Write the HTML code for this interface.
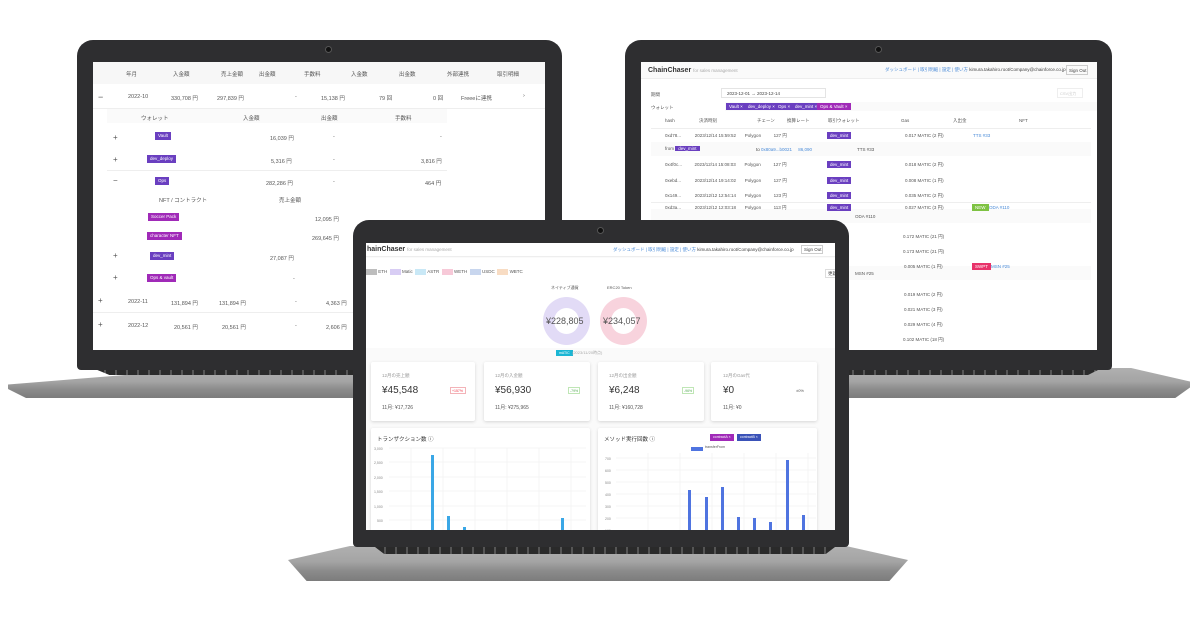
<!DOCTYPE html>
<html><head><meta charset="utf-8">
<style>
*{margin:0;padding:0;box-sizing:border-box}
body{width:1200px;height:631px;background:#fff;position:relative;overflow:hidden;font-family:"Liberation Sans","Noto Sans CJK JP",sans-serif;color:#444}
.a{position:absolute}
.bez{position:absolute;background:#2e2e30;border-radius:16px 16px 4px 4px}
.scr{position:absolute;background:#fff;overflow:hidden}
.t{position:absolute;font-size:5.5px;color:#555;white-space:nowrap}
.tag{position:absolute;height:8px;font-size:4.5px;color:#fff;padding:1px 3px;white-space:nowrap}
.pu{background:#6a3fc0}.mg{background:#a02ab8}
.ln{position:absolute;height:1px;background:#eee}
.card{position:absolute;background:#fff;box-shadow:0 1px 3px rgba(0,0,0,.15);border-radius:2px}
.base{position:absolute;background:linear-gradient(#b0b0b0 0,#a4a4a4 45%,#8c8c8c 70%,#7c7c7c 100%)}
.kb{position:absolute;background:repeating-linear-gradient(90deg,#2a2a2a 0,#2a2a2a 9px,#555 9px,#555 11px);}
</style></head><body>

<!-- LEFT LAPTOP -->
<div class="base" style="left:8px;top:368px;width:600px;height:30px;clip-path:polygon(0 55%,34% 0,100% 0,100% 100%,3% 100%,0 70%);border-radius:0 0 10px 10px"></div>
<div class="kb" style="left:95px;top:369px;width:480px;height:6px;clip-path:polygon(0 0,100% 0,100% 100%,3% 100%)"></div>
<div class="bez" style="left:77px;top:40px;width:485px;height:330px"></div>
<div class="a" style="left:325px;top:46px;width:7px;height:7px;border-radius:50%;background:#111;border:1px solid #555"></div>
<div class="scr" style="left:93px;top:62px;width:452px;height:288px">
 <div class="a" style="left:0;top:0;width:452px;height:22px;background:#f7f7f7"></div>
 <div class="t" style="left:33px;top:8px">年月</div><div class="t" style="left:80px;top:8px">入金額</div><div class="t" style="left:128px;top:8px">売上金額</div><div class="t" style="left:166px;top:8px">出金額</div><div class="t" style="left:211px;top:8px">手数料</div><div class="t" style="left:258px;top:8px">入金数</div><div class="t" style="left:306px;top:8px">出金数</div><div class="t" style="left:354px;top:8px">外部連携</div><div class="t" style="left:404px;top:8px">取引明細</div>
 <div class="t" style="left:5px;top:30px;font-size:9px">−</div><div class="t" style="left:35px;top:32px">2022-10</div><div class="t" style="left:78px;top:32px">330,708 円</div><div class="t" style="left:124px;top:32px">297,839 円</div><div class="t" style="left:202px;top:32px">-</div><div class="t" style="left:228px;top:32px">15,138 円</div><div class="t" style="left:286px;top:32px">79 回</div><div class="t" style="left:340px;top:32px">0 回</div><div class="t" style="left:368px;top:32px">Freeeに連携</div><div class="t" style="left:430px;top:31px">›</div>
 <div class="ln" style="left:0;top:46px;width:452px"></div>
 <div class="a" style="left:14px;top:47px;width:340px;height:14px;background:#fafafa"></div>
 <div class="t" style="left:48px;top:52px">ウォレット</div><div class="t" style="left:150px;top:52px">入金額</div><div class="t" style="left:228px;top:52px">出金額</div><div class="t" style="left:302px;top:52px">手数料</div>
 <div class="t" style="left:20px;top:71px;font-size:8px">+</div><div class="tag pu" style="left:62px;top:70px">Vault</div><div class="t" style="left:177px;top:72px">16,039 円</div><div class="t" style="left:240px;top:72px">-</div><div class="t" style="left:347px;top:72px">-</div>
 <div class="t" style="left:20px;top:93px;font-size:8px">+</div><div class="tag pu" style="left:54px;top:93px">dev_deploy</div><div class="t" style="left:178px;top:95px">5,316 円</div><div class="t" style="left:240px;top:95px">-</div><div class="t" style="left:328px;top:95px">3,816 円</div>
 <div class="ln" style="left:14px;top:108px;width:340px"></div>
 <div class="t" style="left:20px;top:114px;font-size:8px">−</div><div class="tag pu" style="left:62px;top:115px">Ops</div><div class="t" style="left:173px;top:117px">282,286 円</div><div class="t" style="left:240px;top:117px">-</div><div class="t" style="left:332px;top:117px">464 円</div>
 <div class="t" style="left:66px;top:134px">NFT / コントラクト</div><div class="t" style="left:186px;top:134px">売上金額</div>
 <div class="tag mg" style="left:55px;top:151px">Soccer Pack</div><div class="t" style="left:222px;top:153px">12,095 円</div>
 <div class="tag mg" style="left:54px;top:170px">character NFT</div><div class="t" style="left:219px;top:172px">269,645 円</div>
 <div class="t" style="left:20px;top:189px;font-size:8px">+</div><div class="tag pu" style="left:57px;top:190px">dev_mint</div><div class="t" style="left:177px;top:192px">27,087 円</div>
 <div class="t" style="left:20px;top:211px;font-size:8px">+</div><div class="tag mg" style="left:54px;top:212px">Ops &amp; vault</div><div class="t" style="left:200px;top:214px">-</div>
 <div class="t" style="left:5px;top:234px;font-size:8px">+</div><div class="t" style="left:35px;top:237px">2022-11</div><div class="t" style="left:78px;top:237px">131,894 円</div><div class="t" style="left:126px;top:237px">131,894 円</div><div class="t" style="left:202px;top:237px">-</div><div class="t" style="left:233px;top:237px">4,363 円</div>
 <div class="ln" style="left:0;top:250px;width:452px"></div>
 <div class="t" style="left:5px;top:258px;font-size:8px">+</div><div class="t" style="left:35px;top:261px">2022-12</div><div class="t" style="left:81px;top:261px">20,561 円</div><div class="t" style="left:129px;top:261px">20,561 円</div><div class="t" style="left:202px;top:261px">-</div><div class="t" style="left:233px;top:261px">2,606 円</div>
</div>

<!-- RIGHT LAPTOP -->
<div class="base" style="left:700px;top:368px;width:490px;height:30px;clip-path:polygon(0 0,88% 0,100% 45%,100% 65%,97% 100%,0 100%);border-radius:0 0 10px 10px"></div>
<div class="kb" style="left:700px;top:369px;width:400px;height:6px;clip-path:polygon(0 0,100% 0,97% 100%,0 100%)"></div>
<div class="bez" style="left:625px;top:40px;width:487px;height:330px"></div>
<div class="a" style="left:875px;top:46px;width:7px;height:7px;border-radius:50%;background:#111;border:1px solid #555"></div>
<div class="scr" style="left:641px;top:62px;width:456px;height:288px">
 <div class="a" style="left:0;top:0;width:456px;height:17px;background:#fafafa;border-bottom:1px solid #eee"></div>
 <div class="t" style="left:7px;top:5px;font-size:7px;font-weight:bold;color:#333">ChainChaser <span style="font-weight:normal;font-size:4.5px;color:#aaa">for sales management</span></div>
 <div class="t" style="left:244px;top:5px;font-size:4.5px;color:#4a8bd8">ダッシュボード | 取引明細 | 設定 | 使い方 <span style="color:#444">kimura.takahiro.root/Company@chainforce.co.jp</span></div>
 <div class="a" style="left:425px;top:3px;width:22px;height:10px;border:1px solid #ccc;font-size:4.5px;padding:2px;white-space:nowrap">Sign Out</div>
 <div class="t" style="left:10px;top:30px;font-size:4.5px">期間</div><div class="a" style="left:80px;top:26px;width:105px;height:10px;border:1px solid #e4e4e4;font-size:4.5px;padding:2px 5px;white-space:nowrap">2023-12-01 → 2023-12-14</div>
 <div class="a" style="left:416px;top:26px;width:26px;height:10px;border:1px solid #eee;font-size:4px;color:#ccc;padding:2px;white-space:nowrap">CSV出力</div>
 <div class="t" style="left:10px;top:43px;font-size:4.5px">ウォレット</div><div class="a" style="left:84px;top:40px;width:385px;height:9px;background:#fafafa"></div>
 <div class="tag pu" style="left:85px;top:41px;height:7px">Vault ×</div><div class="tag pu" style="left:104px;top:41px;height:7px">dev_deploy ×</div><div class="tag pu" style="left:134px;top:41px;height:7px">Ops ×</div><div class="tag pu" style="left:151px;top:41px;height:7px">dev_mint ×</div><div class="tag mg" style="left:176px;top:41px;height:7px">Ops &amp; Vault ×</div>
 <div class="t" style="left:24px;top:56px;font-size:4.5px">hash</div><div class="t" style="left:58px;top:56px;font-size:4.5px">決済時刻</div><div class="t" style="left:116px;top:56px;font-size:4.5px">チェーン</div><div class="t" style="left:146px;top:56px;font-size:4.5px">換算レート</div><div class="t" style="left:187px;top:56px;font-size:4.5px">取引ウォレット</div><div class="t" style="left:260px;top:56px;font-size:4.5px">Gas</div><div class="t" style="left:312px;top:56px;font-size:4.5px">入出金</div><div class="t" style="left:378px;top:56px;font-size:4.5px">NFT</div>
 <div class="ln" style="left:10px;top:66px;width:440px"></div>
 <div class="a" style="left:10px;top:80px;width:440px;height:14px;background:#fafafa"></div>
 <div class="t" style="left:24px;top:84px;font-size:4.5px">from <span style="background:#6a3fc0;color:#fff;padding:0 3px">dev_mint</span></div><div class="t" style="left:115px;top:85px;font-size:4.5px;color:#4a8bd8"><span style="color:#444">to</span> 0x80a9...b0021 &nbsp;&nbsp;&nbsp; 86,090</div><div class="t" style="left:216px;top:85px;font-size:4.5px">TTS #33</div>
 <div class="a" style="left:10px;top:147px;width:440px;height:14px;background:#fafafa"></div><div class="t" style="left:214px;top:152px;font-size:4.5px">ODA #110</div>
 <div class="a" style="left:10px;top:204px;width:440px;height:14px;background:#fafafa"></div><div class="t" style="left:214px;top:209px;font-size:4.5px">MSN #25</div>
 <div class="t" style="left:24px;top:71px;font-size:4.5px">0xd78... &nbsp;&nbsp;&nbsp;&nbsp;&nbsp;&nbsp;&nbsp;&nbsp;&nbsp; 2023/12/14 15:59:52 &nbsp;&nbsp;&nbsp;&nbsp;&nbsp; Polygon &nbsp;&nbsp;&nbsp;&nbsp;&nbsp;&nbsp;&nbsp;&nbsp; 127 円</div><div class="tag pu" style="left:186px;top:70px;height:7px">dev_mint</div><div class="t" style="left:264px;top:71px;font-size:4.5px">0.017 MATIC (2 円)</div><div class="t" style="left:332px;top:71px;font-size:4.5px;color:#4a8bd8">TTS #33</div>
 <div class="t" style="left:24px;top:100px;font-size:4.5px">0x4f0c... &nbsp;&nbsp;&nbsp;&nbsp;&nbsp;&nbsp;&nbsp;&nbsp; 2023/12/14 15:08:03 &nbsp;&nbsp;&nbsp;&nbsp;&nbsp; Polygon &nbsp;&nbsp;&nbsp;&nbsp;&nbsp;&nbsp;&nbsp;&nbsp; 127 円</div><div class="tag pu" style="left:186px;top:99px;height:7px">dev_mint</div><div class="t" style="left:264px;top:100px;font-size:4.5px">0.018 MATIC (2 円)</div>
 <div class="t" style="left:24px;top:116px;font-size:4.5px">0xebd... &nbsp;&nbsp;&nbsp;&nbsp;&nbsp;&nbsp;&nbsp;&nbsp;&nbsp; 2023/12/14 19:14:02 &nbsp;&nbsp;&nbsp;&nbsp;&nbsp; Polygon &nbsp;&nbsp;&nbsp;&nbsp;&nbsp;&nbsp;&nbsp;&nbsp; 127 円</div><div class="tag pu" style="left:186px;top:115px;height:7px">dev_mint</div><div class="t" style="left:264px;top:116px;font-size:4.5px">0.008 MATIC (1 円)</div>
 <div class="t" style="left:24px;top:131px;font-size:4.5px">0x149... &nbsp;&nbsp;&nbsp;&nbsp;&nbsp;&nbsp;&nbsp;&nbsp;&nbsp; 2023/12/12 12:54:14 &nbsp;&nbsp;&nbsp;&nbsp;&nbsp; Polygon &nbsp;&nbsp;&nbsp;&nbsp;&nbsp;&nbsp;&nbsp;&nbsp; 123 円</div><div class="tag pu" style="left:186px;top:130px;height:7px">dev_mint</div><div class="t" style="left:264px;top:131px;font-size:4.5px">0.035 MATIC (2 円)</div>
 <div class="ln" style="left:10px;top:140px;width:440px"></div>
 <div class="t" style="left:24px;top:143px;font-size:4.5px">0xd3a... &nbsp;&nbsp;&nbsp;&nbsp;&nbsp;&nbsp;&nbsp;&nbsp;&nbsp; 2023/12/12 12:03:18 &nbsp;&nbsp;&nbsp;&nbsp;&nbsp; Polygon &nbsp;&nbsp;&nbsp;&nbsp;&nbsp;&nbsp;&nbsp;&nbsp; 113 円</div><div class="tag pu" style="left:186px;top:142px;height:7px">dev_mint</div><div class="t" style="left:264px;top:143px;font-size:4.5px">0.027 MATIC (3 円)</div><div class="tag" style="left:331px;top:142px;height:7px;background:#7ec242">NEW</div><div class="t" style="left:348px;top:143px;font-size:4.5px;color:#4a8bd8">ODA #110</div>
 <div class="t" style="left:262px;top:172px;font-size:4.5px">0.172 MATIC (21 円)</div><div class="t" style="left:262px;top:187px;font-size:4.5px">0.173 MATIC (21 円)</div><div class="t" style="left:263px;top:202px;font-size:4.5px">0.005 MATIC (1 円)</div><div class="tag" style="left:331px;top:201px;height:7px;background:#e8336a">SWPT</div><div class="t" style="left:350px;top:202px;font-size:4.5px;color:#4a8bd8">MSN #25</div>
 <div class="t" style="left:263px;top:230px;font-size:4.5px">0.019 MATIC (2 円)</div><div class="t" style="left:263px;top:245px;font-size:4.5px">0.021 MATIC (3 円)</div><div class="t" style="left:263px;top:260px;font-size:4.5px">0.029 MATIC (4 円)</div><div class="t" style="left:262px;top:275px;font-size:4.5px">0.102 MATIC (18 円)</div>
 <div class="a" style="left:186px;top:170px;width:20px;height:118px;background:repeating-linear-gradient(#fff 0,#fff 3px,#6a3fc0 3px,#6a3fc0 10px,#fff 10px,#fff 15px)"></div>
</div>

<!-- CENTER LAPTOP -->
<div class="base" style="left:288px;top:546px;width:620px;height:35px;clip-path:polygon(0 40%,10% 0,90% 0,100% 40%,97% 100%,3% 100%);border-radius:0 0 14px 14px"></div>
<div class="kb" style="left:375px;top:547px;width:460px;height:7px;clip-path:polygon(0 0,100% 0,98% 100%,2% 100%)"></div>
<div class="bez" style="left:353px;top:220px;width:496px;height:327px"></div>
<div class="a" style="left:597px;top:227px;width:7px;height:7px;border-radius:50%;background:#111;border:1px solid #555"></div>
<div class="scr" style="left:366px;top:243px;width:469px;height:287px;background:#fafafa">
 <div class="a" style="left:0;top:0;width:469px;height:14px;background:#fff;border-bottom:1px solid #eee"></div>
 <div class="t" style="left:1px;top:3px;font-size:7px;font-weight:bold;color:#333">hainChaser <span style="font-weight:normal;font-size:4.5px;color:#aaa">for sales management</span></div>
 <div class="t" style="left:247px;top:4px;font-size:4.5px;color:#4a8bd8">ダッシュボード | 取引明細 | 設定 | 使い方 <span style="color:#444">kimura.takahiro.root/Company@chainforce.co.jp</span></div>
 <div class="a" style="left:435px;top:2px;width:22px;height:9px;border:1px solid #ccc;font-size:4.5px;padding:1px 2px;background:#fff;white-space:nowrap">Sign Out</div>
 <div class="a" style="left:0;top:15px;width:469px;height:90px;background:#fff"></div>
 <div class="t" style="left:0;top:26px;font-size:4.5px"><span style="display:inline-block;width:11px;height:6px;background:#bdbdbd;vertical-align:middle"></span> ETH &nbsp;<span style="display:inline-block;width:11px;height:6px;background:#d8cdf4;vertical-align:middle"></span> Matic &nbsp;<span style="display:inline-block;width:11px;height:6px;background:#c9e8f6;vertical-align:middle"></span> ASTR &nbsp;<span style="display:inline-block;width:11px;height:6px;background:#f7c9d8;vertical-align:middle"></span> WETH &nbsp;<span style="display:inline-block;width:11px;height:6px;background:#c8d6ee;vertical-align:middle"></span> USDC &nbsp;<span style="display:inline-block;width:11px;height:6px;background:#f8dcc3;vertical-align:middle"></span> WBTC</div>
 <div class="a" style="left:459px;top:26px;width:16px;height:9px;border:1px solid #ddd;font-size:4.5px;padding:1px 2px;white-space:nowrap">更新</div>
 <div class="t" style="left:185px;top:42px;font-size:4px">ネイティブ通貨</div><div class="t" style="left:241px;top:42px;font-size:4px">ERC20 Token</div>
 <div class="a" style="left:177px;top:54px;width:47px;height:48px;border-radius:50%;border:11px solid #e2dbf6"></div>
 <div class="a" style="left:234px;top:54px;width:47px;height:48px;border-radius:50%;border:11px solid #f8d3dd"></div>
 <div class="t" style="left:180px;top:73px;font-size:9px;color:#555">¥228,805</div><div class="t" style="left:237px;top:73px;font-size:9px;color:#555">¥234,057</div>
 <div class="tag" style="left:190px;top:107px;height:6px;font-size:3.5px;background:#1bb6d4">mATIC</div><div class="t" style="left:206px;top:107px;font-size:4px;color:#aaa">(2023/11/20時点)</div>
 <div class="card" style="left:5px;top:119px;width:104px;height:59px"></div>
 <div class="card" style="left:118px;top:119px;width:106px;height:59px"></div>
 <div class="card" style="left:232px;top:119px;width:106px;height:59px"></div>
 <div class="card" style="left:345px;top:119px;width:106px;height:59px"></div>
 <div class="t" style="left:16px;top:130px;font-size:4.5px;color:#999">12月の売上額</div><div class="t" style="left:16px;top:142px;font-size:10px;color:#333">¥45,548</div><div class="a" style="left:84px;top:144px;width:16px;height:7px;border:1px solid #f3b3b8;font-size:3.5px;color:#e34;padding:1px">+157%</div><div class="t" style="left:16px;top:161px;font-size:5px">11月: ¥17,726</div>
 <div class="t" style="left:129px;top:130px;font-size:4.5px;color:#999">12月の入金額</div><div class="t" style="left:129px;top:142px;font-size:10px;color:#333">¥56,930</div><div class="a" style="left:202px;top:144px;width:12px;height:7px;border:1px solid #bfe6b5;font-size:3.5px;color:#5a5;padding:1px">-79%</div><div class="t" style="left:129px;top:161px;font-size:5px">11月: ¥275,965</div>
 <div class="t" style="left:243px;top:130px;font-size:4.5px;color:#999">12月の出金額</div><div class="t" style="left:243px;top:142px;font-size:10px;color:#333">¥6,248</div><div class="a" style="left:316px;top:144px;width:12px;height:7px;border:1px solid #bfe6b5;font-size:3.5px;color:#5a5;padding:1px">-96%</div><div class="t" style="left:243px;top:161px;font-size:5px">11月: ¥160,728</div>
 <div class="t" style="left:357px;top:130px;font-size:4.5px;color:#999">12月のGas代</div><div class="t" style="left:357px;top:142px;font-size:10px;color:#333">¥0</div><div class="t" style="left:430px;top:145px;font-size:4px">±0%</div><div class="t" style="left:357px;top:161px;font-size:5px">11月: ¥0</div>
 <div class="card" style="left:5px;top:185px;width:219px;height:110px"></div>
 <div class="card" style="left:232px;top:185px;width:219px;height:110px"></div>
 <div class="t" style="left:11px;top:192px;font-size:5.5px;color:#333">トランザクション数 ⓘ</div>
 <div class="t" style="left:238px;top:192px;font-size:5.5px;color:#333">メソッド実行回数 ⓘ</div>
 <div class="tag mg" style="left:344px;top:191px;height:7px;font-size:3.5px">contractA ×</div><div class="tag" style="left:371px;top:191px;height:7px;font-size:3.5px;background:#3a52b8">contractB ×</div>
 <div class="a" style="left:325px;top:204px;width:12px;height:4px;background:#4f74e0"></div><div class="t" style="left:339px;top:202px;font-size:3.5px">transferFrom</div>
 <svg class="a" style="left:5px;top:200px" width="446" height="90">
  <g stroke="#eee" stroke-width="0.6">
   <line x1="18" y1="5" x2="215" y2="5"/><line x1="18" y1="19" x2="215" y2="19"/><line x1="18" y1="34" x2="215" y2="34"/><line x1="18" y1="48" x2="215" y2="48"/><line x1="18" y1="63" x2="215" y2="63"/><line x1="18" y1="77" x2="215" y2="77"/>
   <line x1="40" y1="5" x2="40" y2="90"/><line x1="72" y1="5" x2="72" y2="90"/><line x1="104" y1="5" x2="104" y2="90"/><line x1="136" y1="5" x2="136" y2="90"/><line x1="168" y1="5" x2="168" y2="90"/><line x1="200" y1="5" x2="200" y2="90"/>
   <line x1="245" y1="15" x2="445" y2="15"/><line x1="245" y1="27" x2="445" y2="27"/><line x1="245" y1="39" x2="445" y2="39"/><line x1="245" y1="51" x2="445" y2="51"/><line x1="245" y1="63" x2="445" y2="63"/><line x1="245" y1="75" x2="445" y2="75"/>
   <line x1="277" y1="10" x2="277" y2="90"/><line x1="309" y1="10" x2="309" y2="90"/><line x1="341" y1="10" x2="341" y2="90"/><line x1="373" y1="10" x2="373" y2="90"/><line x1="405" y1="10" x2="405" y2="90"/><line x1="437" y1="10" x2="437" y2="90"/>
  </g>
  <g font-size="3.5" fill="#888" font-family="Liberation Sans">
   <text x="3" y="7">3,000</text><text x="3" y="21">2,500</text><text x="3" y="36">2,000</text><text x="3" y="50">1,500</text><text x="3" y="65">1,000</text><text x="6" y="79">500</text>
   <text x="234" y="17">700</text><text x="234" y="29">600</text><text x="234" y="41">500</text><text x="234" y="53">400</text><text x="234" y="65">300</text><text x="234" y="77">200</text><text x="234" y="89">100</text>
  </g>
  <g fill="#3aa7e6"><rect x="60" y="12" width="3" height="78"/><rect x="76" y="73" width="3" height="17"/><rect x="92" y="84" width="3" height="6"/><rect x="190" y="75" width="3" height="15"/></g>
  <g fill="#4f74e0"><rect x="317" y="47" width="3" height="43"/><rect x="334" y="54" width="3" height="36"/><rect x="350" y="44" width="3" height="46"/><rect x="366" y="74" width="3" height="16"/><rect x="382" y="75" width="3" height="15"/><rect x="398" y="79" width="3" height="11"/><rect x="415" y="17" width="3" height="73"/><rect x="431" y="72" width="3" height="18"/></g>
 </svg>
</div>
</body></html>
